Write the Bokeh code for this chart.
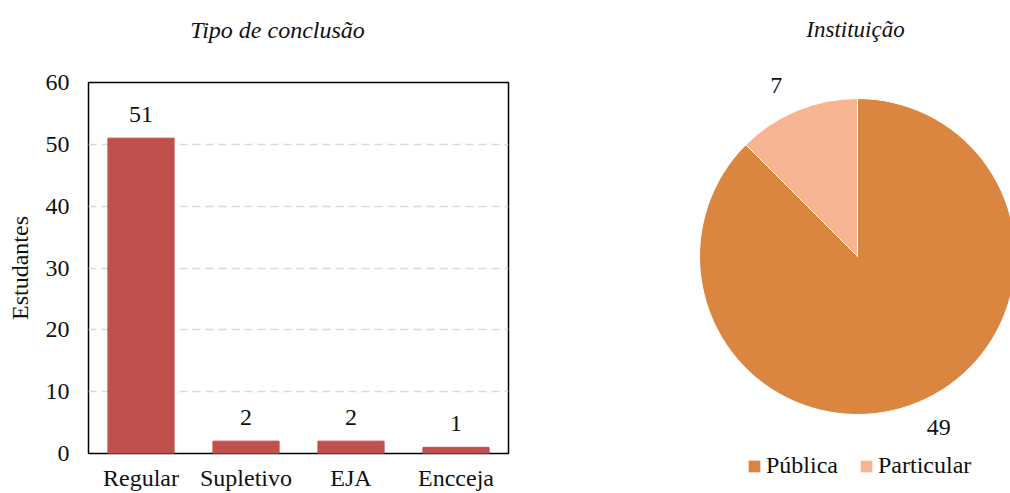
import math
from bokeh.plotting import figure
from bokeh.models import (ColumnDataSource, FactorRange, Range1d, FixedTicker,
                          LabelSet, Label, Legend, LegendItem)
from bokeh.layouts import row, column
from bokeh.embed import file_html
from bokeh.resources import INLINE

# ---- data ----
bar_title = "Tipo de conclusão"
categories = ["Regular", "Supletivo", "EJA", "Encceja"]
counts = [51, 2, 2, 1]
y_ticks = [0, 10, 20, 30, 40, 50, 60]
y_label = "Estudantes"

pie_title = "Instituição"
pie_labels = ["Pública", "Particular"]
pie_values = [49, 7]
pie_colors = ["#DA8540", "#F8B593"]
bar_color = "#C0504D"

FONT = "Liberation Serif"
FS = "24px"
TFS = "23px"
TXT = "#111111"

H = 493
TH = 56          # height of the title strip above the bar chart
W1, W2 = 560, 450


def no_align(fig):
    if "frame_align" in fig.properties():
        fig.frame_align = False


# ---- title strip for the bar chart ----
pt = figure(x_range=Range1d(0, W1), y_range=Range1d(0, TH), width=W1, height=TH,
            title=None, output_backend="svg", toolbar_location=None, min_border=0)
no_align(pt)
pt.axis.visible = False
pt.grid.visible = False
pt.outline_line_color = None
pt.add_layout(Label(x=277, y=TH - 29, text=bar_title, text_align="center",
                    text_baseline="alphabetic", text_font=FONT, text_font_size=FS,
                    text_font_style="italic", text_color=TXT))

# ---- bar chart ----
src = ColumnDataSource(dict(cat=categories, val=counts, txt=[str(v) for v in counts]))
p1 = figure(x_range=FactorRange(factors=categories, range_padding=0),
            y_range=Range1d(0, 60), width=W1, height=H - TH, title=None,
            output_backend="svg", toolbar_location=None,
            min_border_left=88, min_border_right=52, min_border_top=82 - TH,
            min_border_bottom=40)
no_align(p1)
p1.vbar(x="cat", top="val", width=0.63, source=src, color=bar_color)
p1.add_layout(LabelSet(x="cat", y="val", text="txt", source=src, y_offset=16,
                       text_align="center", text_baseline="alphabetic",
                       text_font=FONT, text_font_size=FS, text_color=TXT))
p1.outline_line_color = "black"
p1.outline_line_width = 1.5
p1.xgrid.visible = False
p1.ygrid.grid_line_color = "#d9d9d9"
p1.ygrid.grid_line_width = 1.5
p1.ygrid.grid_line_dash = "8 5"
p1.yaxis.ticker = FixedTicker(ticks=y_ticks)
for ax in (p1.xaxis[0], p1.yaxis[0]):
    ax.axis_line_color = None
    ax.major_tick_line_color = None
    ax.minor_tick_line_color = None
    ax.major_tick_out = 0
    ax.major_tick_in = 0
    ax.major_label_text_font = FONT
    ax.major_label_text_font_size = FS
    ax.major_label_text_color = TXT
p1.xaxis.major_label_standoff = 11
p1.yaxis.major_label_standoff = 19
p1.yaxis.axis_label = y_label
p1.yaxis.axis_label_text_font = FONT
p1.yaxis.axis_label_text_font_size = FS
p1.yaxis.axis_label_text_font_style = "normal"
p1.yaxis.axis_label_text_color = TXT
p1.yaxis.axis_label_standoff = 10

# ---- pie chart ----
cx, cy, r = 297, 237, 158
total = sum(pie_values)
cum = [0]
for v in pie_values:
    cum.append(cum[-1] + v)
starts = [math.pi / 2 - 2 * math.pi * cum[i] / total for i in range(len(pie_values))]
ends = [math.pi / 2 - 2 * math.pi * cum[i + 1] / total for i in range(len(pie_values))]
mids = [(s + e) / 2 + 0.05 for s, e in zip(starts, ends)]
psrc = ColumnDataSource(dict(
    label=pie_labels, value=pie_values, start=starts, end=ends, color=pie_colors,
    lx=[cx + 1.2 * r * math.cos(m) for m in mids],
    ly=[cy + 1.2 * r * math.sin(m) for m in mids],
    txt=[str(v) for v in pie_values]))
p2 = figure(x_range=Range1d(0, W2), y_range=Range1d(0, H), width=W2, height=H,
            title=None, output_backend="svg", toolbar_location=None, min_border=0)
no_align(p2)
p2.axis.visible = False
p2.grid.visible = False
p2.outline_line_color = None
wr = p2.wedge(x=cx, y=cy, radius=r, start_angle="start", end_angle="end",
              direction="clock", fill_color="color", line_color="white",
              line_width=1, source=psrc)
p2.add_layout(LabelSet(x="lx", y="ly", text="txt", source=psrc, text_align="center",
                       text_baseline="middle", text_font=FONT, text_font_size=FS,
                       text_color=TXT))
legend = Legend(items=[LegendItem(label=lab, renderers=[wr], index=i)
                       for i, lab in enumerate(pie_labels)],
                orientation="horizontal", location=(186, 14),
                label_text_font=FONT, label_text_font_size=FS, label_text_color=TXT,
                glyph_width=16, glyph_height=16, label_standoff=4, spacing=20,
                padding=0, margin=0, border_line_color=None, background_fill_alpha=0)
p2.add_layout(legend)
p2.add_layout(Label(x=295, y=H - 29, text=pie_title, text_align="center",
                    text_baseline="alphabetic", text_font=FONT, text_font_size=TFS,
                    text_font_style="italic", text_color=TXT))

layout = row(column(pt, p1, spacing=0), p2, spacing=0)
open("out.html", "w").write(file_html(layout, INLINE))
